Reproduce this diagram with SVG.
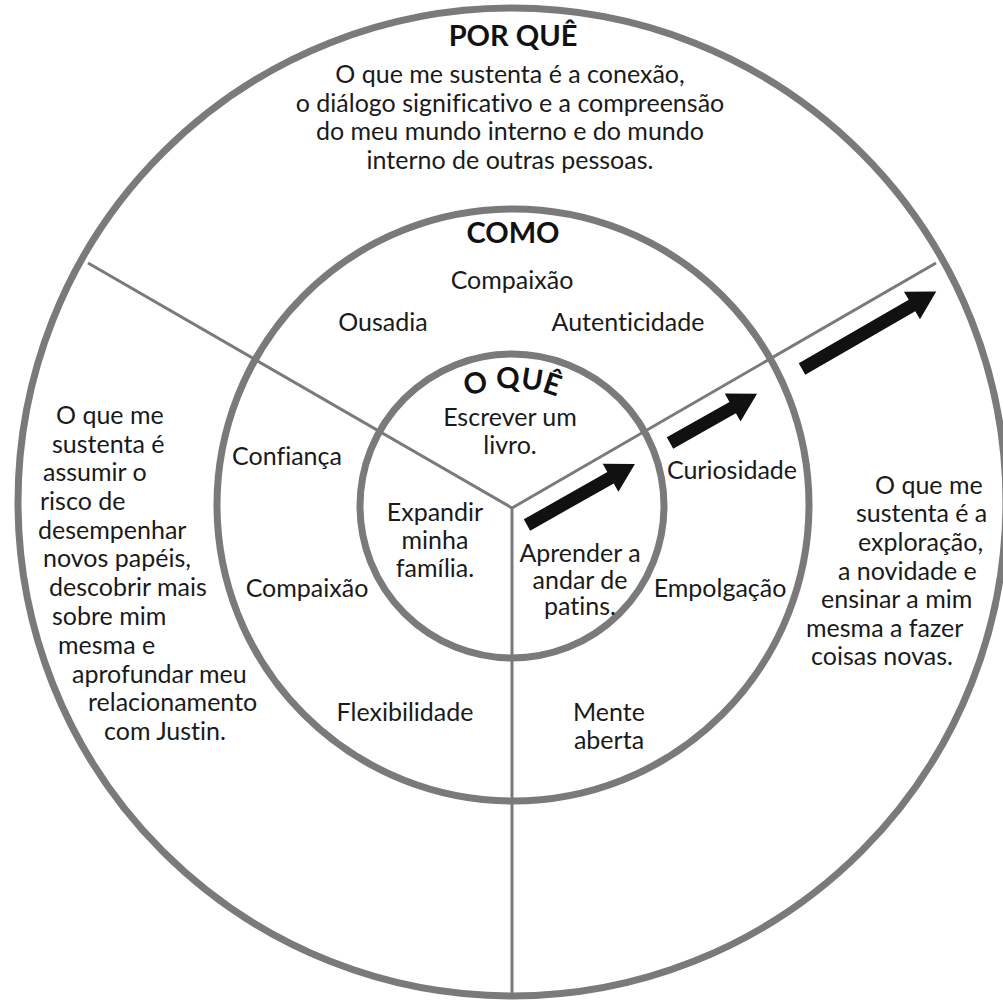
<svg xmlns="http://www.w3.org/2000/svg" width="1003" height="1002" viewBox="0 0 1003 1002">
<style>
.ring{fill:none;stroke:#7a7a7a;stroke-width:7}
.div{stroke:#7a7a7a;stroke-width:3;fill:none}
.arrow{fill:#111}
text{font-family:Lato,"Liberation Sans",sans-serif;fill:#1a1a1a;font-variant-ligatures:none}
.t{font-size:25px}
.h{font-size:29px;font-weight:700;fill:#111}
.c{text-anchor:middle}
</style>
<defs>
<path id="oqueArc" d="M 394,506 A 118 118 0 0 1 630,506"/>
</defs>
<rect width="1003" height="1002" fill="#fff"/>
<g id="connectors">
<line class="div" x1="512" y1="508" x2="88" y2="263"/>
<line class="div" x1="512" y1="508" x2="936" y2="263"/>
<line class="div" x1="512" y1="508" x2="512" y2="995"/>
<g id="arrows">
<path class="arrow" transform="translate(527,525) rotate(-29.5)" d="M0,-6.5 L96,-6.5 L96,-16 L124,0 L96,16 L96,6.5 L0,6.5 Z"/>
<path class="arrow" transform="translate(670,443) rotate(-29.5)" d="M0,-6.5 L72,-6.5 L72,-16 L100,0 L72,16 L72,6.5 L0,6.5 Z"/>
<path class="arrow" transform="translate(802,369) rotate(-30)" d="M0,-6.5 L127,-6.5 L127,-16 L155,0 L127,16 L127,6.5 L0,6.5 Z"/>
</g>
</g>
<g id="por-que">
<circle class="ring" cx="512" cy="502" r="494"/>
<text class="h c" x="513" y="46">POR QUÊ</text>
<text class="t c" x="510" y="83">O que me sustenta é a conexão,</text>
<text class="t c" x="510" y="112">o diálogo significativo e a compreensão</text>
<text class="t c" x="510" y="140">do meu mundo interno e do mundo</text>
<text class="t c" x="510" y="169">interno de outras pessoas.</text>
</g>
<g id="como">
<circle class="ring" cx="513" cy="505" r="296"/>
<text class="h c" x="513" y="243">COMO</text>
<text class="t c" x="512" y="289">Compaixão</text>
<text class="t c" x="383" y="331">Ousadia</text>
<text class="t c" x="628" y="331">Autenticidade</text>
<text class="t c" x="287" y="465">Confiança</text>
<text class="t c" x="732" y="479">Curiosidade</text>
<text class="t c" x="307" y="597">Compaixão</text>
<text class="t c" x="720" y="597">Empolgação</text>
<text class="t c" x="405" y="721">Flexibilidade</text>
<text class="t c" x="609" y="721">Mente</text>
<text class="t c" x="609" y="749">aberta</text>
</g>
<g id="o-que">
<circle class="ring" cx="512" cy="506" r="152"/>
<text class="h"><textPath href="#oqueArc" startOffset="50%" text-anchor="middle">O QUÊ</textPath></text>
<text class="t c" x="510" y="426">Escrever um</text>
<text class="t c" x="510" y="454">livro.</text>
<text class="t c" x="435" y="521">Expandir</text>
<text class="t c" x="435" y="549">minha</text>
<text class="t c" x="435" y="577">família.</text>
<text class="t c" x="580" y="562">Aprender a</text>
<text class="t c" x="580" y="589">andar de</text>
<text class="t c" x="580" y="615">patins.</text>
</g>
<g id="left-text">
<text class="t" x="56" y="424">O que me</text>
<text class="t" x="52" y="453">sustenta é</text>
<text class="t" x="43" y="481">assumir o</text>
<text class="t" x="40" y="510">risco de</text>
<text class="t" x="38" y="539">desempenhar</text>
<text class="t" x="43" y="567">novos papéis,</text>
<text class="t" x="49" y="596">descobrir mais</text>
<text class="t" x="52" y="625">sobre mim</text>
<text class="t" x="58" y="654">mesma e</text>
<text class="t" x="72" y="683">aprofundar meu</text>
<text class="t" x="88" y="711">relacionamento</text>
<text class="t" x="104" y="740">com Justin.</text>
</g>
<g id="right-text">
<text class="t" x="875" y="494">O que me</text>
<text class="t" x="856" y="522">sustenta é a</text>
<text class="t" x="858" y="551">exploração,</text>
<text class="t" x="838" y="580">a novidade e</text>
<text class="t" x="821" y="608">ensinar a mim</text>
<text class="t" x="806" y="637">mesma a fazer</text>
<text class="t" x="811" y="665">coisas novas.</text>
</g>
</svg>
